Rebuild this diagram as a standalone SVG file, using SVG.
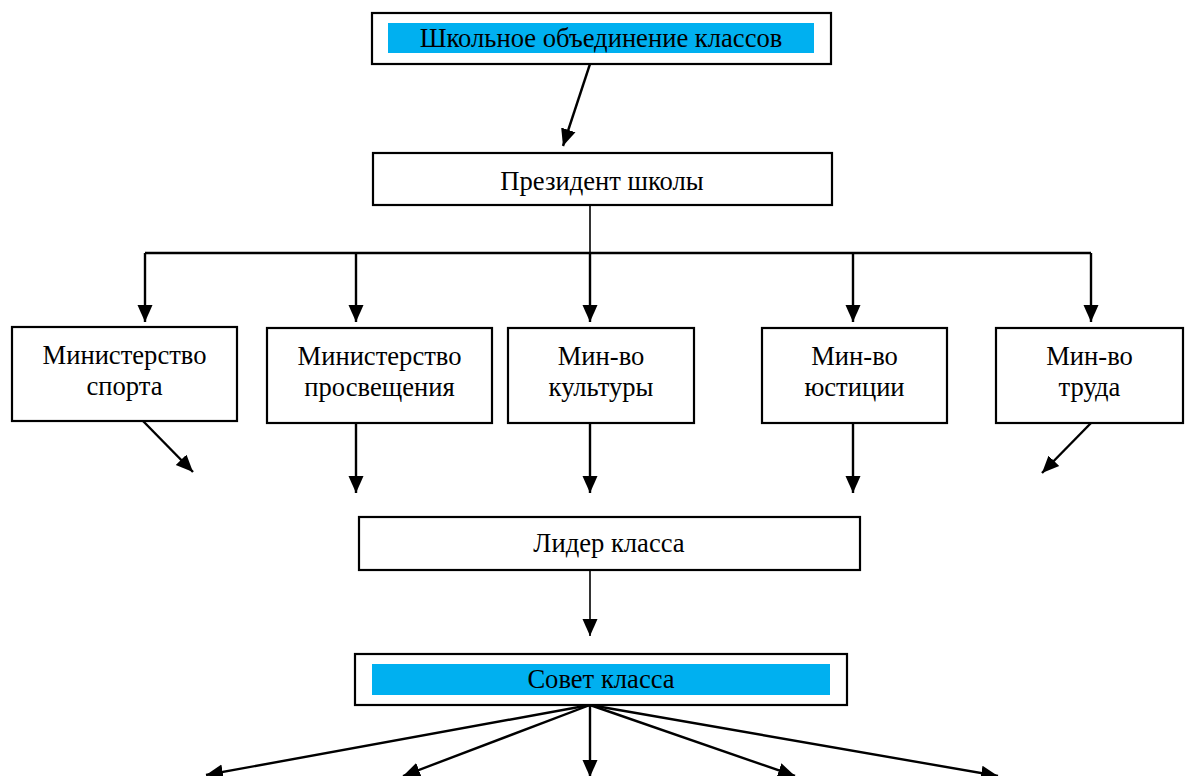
<svg xmlns="http://www.w3.org/2000/svg" width="1187" height="776" viewBox="0 0 1187 776">
<style>
.box{fill:#fff;stroke:#000;stroke-width:2.2}
.hl{fill:#00B0F0;stroke:none}
.t{font-family:"Liberation Serif","Times New Roman",serif;font-size:26.6px;fill:#000;text-anchor:middle}
.c{stroke:#000;stroke-width:2.4;fill:none}
.thin{stroke-width:1.6}
</style>
<defs>
<marker id="ah" markerUnits="userSpaceOnUse" markerWidth="18" markerHeight="16" refX="17" refY="8" orient="auto">
<path d="M0,0.5 L17,8 L0,15.5 z" fill="#000"/>
</marker>
</defs>
<rect width="1187" height="776" fill="#fff"/>
<g id="connectors">
<line class="c" x1="590" y1="64" x2="563" y2="146" marker-end="url(#ah)"/>
<line class="c thin" x1="590" y1="205" x2="590" y2="253"/>
<line class="c" x1="145" y1="253" x2="1091" y2="253"/>
<line class="c" x1="145" y1="253" x2="145" y2="322" marker-end="url(#ah)"/>
<line class="c" x1="356" y1="253" x2="356" y2="322" marker-end="url(#ah)"/>
<line class="c" x1="590" y1="253" x2="590" y2="322" marker-end="url(#ah)"/>
<line class="c" x1="853" y1="253" x2="853" y2="322" marker-end="url(#ah)"/>
<line class="c" x1="1091" y1="253" x2="1091" y2="322" marker-end="url(#ah)"/>
<line class="c" x1="143" y1="421" x2="193" y2="472" marker-end="url(#ah)"/>
<line class="c" x1="356" y1="423" x2="356" y2="493" marker-end="url(#ah)"/>
<line class="c" x1="590" y1="423" x2="590" y2="493" marker-end="url(#ah)"/>
<line class="c" x1="853" y1="423" x2="853" y2="493" marker-end="url(#ah)"/>
<line class="c" x1="1091" y1="423" x2="1042" y2="473" marker-end="url(#ah)"/>
<line class="c thin" x1="590" y1="570" x2="590" y2="636" marker-end="url(#ah)"/>
<line class="c" x1="590" y1="705" x2="206" y2="775" marker-end="url(#ah)"/>
<line class="c" x1="590" y1="705" x2="403" y2="776" marker-end="url(#ah)"/>
<line class="c" x1="590" y1="705" x2="590" y2="777" marker-end="url(#ah)"/>
<line class="c" x1="590" y1="705" x2="795" y2="776" marker-end="url(#ah)"/>
<line class="c" x1="590" y1="705" x2="998" y2="776" marker-end="url(#ah)"/>
</g>
<g id="school">
<rect class="box" x="372" y="13" width="459" height="51"/>
<rect class="hl" x="388" y="23" width="426" height="30"/>
<text class="t" x="601" y="47">Школьное объединение классов</text>
</g>
<g id="president">
<rect class="box" x="373" y="153" width="459" height="52"/>
<text class="t" x="602" y="190">Президент школы</text>
</g>
<g id="sport">
<rect class="box" x="12" y="327" width="225" height="94"/>
<text class="t" x="124.5" y="364">Министерство</text>
<text class="t" x="124.5" y="395">спорта</text>
</g>
<g id="education">
<rect class="box" x="267" y="328" width="225" height="95"/>
<text class="t" x="379.5" y="365">Министерство</text>
<text class="t" x="379.5" y="396">просвещения</text>
</g>
<g id="culture">
<rect class="box" x="508" y="328" width="186" height="95"/>
<text class="t" x="601" y="365">Мин-во</text>
<text class="t" x="601" y="396">культуры</text>
</g>
<g id="justice">
<rect class="box" x="762" y="328" width="185" height="95"/>
<text class="t" x="854.5" y="365">Мин-во</text>
<text class="t" x="854.5" y="396">юстиции</text>
</g>
<g id="labour">
<rect class="box" x="996" y="328" width="187" height="95"/>
<text class="t" x="1089.5" y="365">Мин-во</text>
<text class="t" x="1089.5" y="396">труда</text>
</g>
<g id="leader">
<rect class="box" x="359" y="517" width="501" height="53"/>
<text class="t" x="609" y="552">Лидер класса</text>
</g>
<g id="council">
<rect class="box" x="355" y="654" width="492" height="51"/>
<rect class="hl" x="372" y="664" width="458" height="31"/>
<text class="t" x="601" y="688">Совет класса</text>
</g>
</svg>
